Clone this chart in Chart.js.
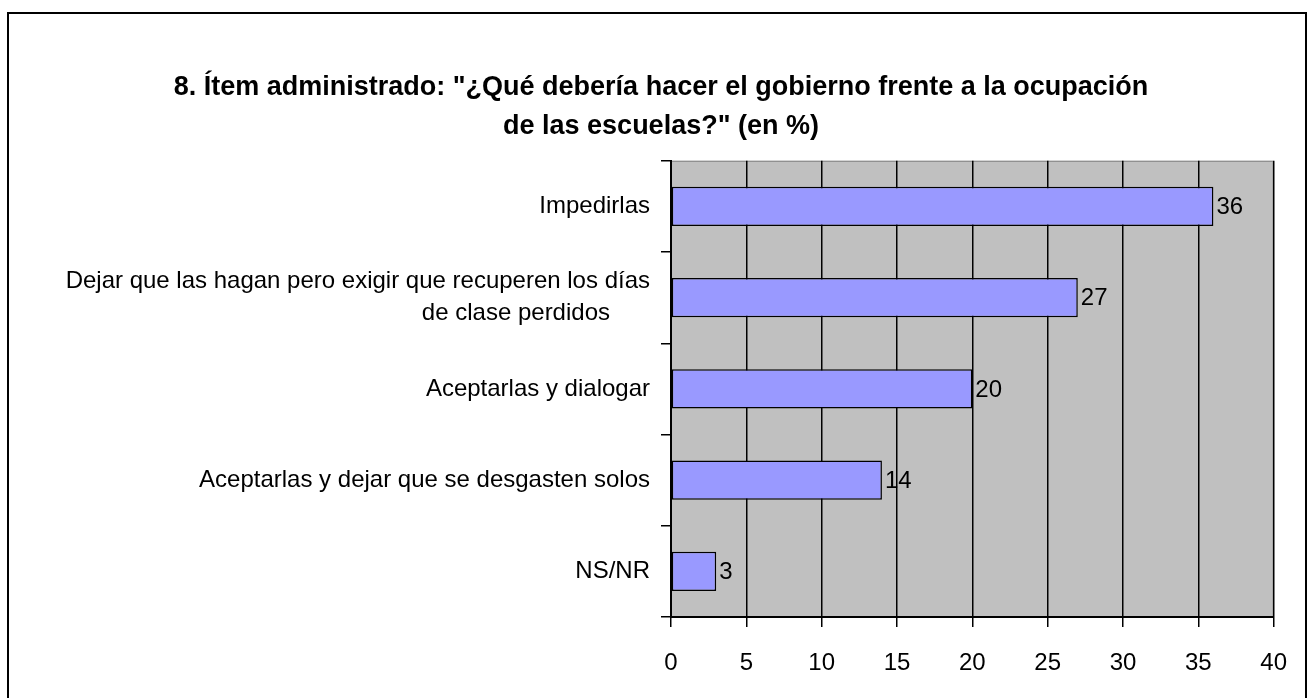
<!DOCTYPE html>
<html>
<head>
<meta charset="utf-8">
<script src="https://cdn.jsdelivr.net/npm/chart.js@4"></script>
<style>
  html, body { margin: 0; padding: 0; background: #fff; }
  #wrap { width: 1309px; height: 698px; }
</style>
</head>
<body>
<div id="wrap"><canvas id="chart" width="1309" height="698"></canvas></div>
<script>
// data
let categories = [
    "Impedirlas",
    ["Dejar que las hagan pero exigir que recuperen los días", "de clase perdidos      "],
    "Aceptarlas y dialogar",
    "Aceptarlas y dejar que se desgasten solos",
    "NS/NR"
];
let values = [36, 27, 20, 14, 3];
let titleLines = [
    "8. Ítem administrado: \"¿Qué debería hacer el gobierno frente a la ocupación",
    "de las escuelas?\" (en %)"
];

let fontFamily = "'Liberation Sans', Arial, sans-serif";

// outer frame + grey plot background
let framePlugin = {
    id: "frame",
    beforeDraw(chart) {
        let ctx = chart.ctx;
        let a = chart.chartArea;
        ctx.save();
        ctx.fillStyle = "#fff";
        ctx.fillRect(0, 0, chart.width, chart.height);
        ctx.fillStyle = "#C0C0C0";
        ctx.fillRect(a.left, a.top, a.right - a.left, a.bottom - a.top);
        ctx.strokeStyle = "#808080";
        ctx.lineWidth = 1;
        ctx.beginPath();
        ctx.moveTo(a.left, a.top + 0.5);
        ctx.lineTo(a.right - 0.5, a.top + 0.5);
        ctx.lineTo(a.right - 0.5, a.bottom);
        ctx.stroke();
        ctx.strokeStyle = "#000";
        ctx.lineWidth = 2;
        ctx.strokeRect(8, 13, 1298, 700);
        ctx.restore();
    }
};

// value labels at the end of each bar
let valueLabels = {
    id: "valueLabels",
    afterDatasetsDraw(chart) {
        let ctx = chart.ctx;
        let meta = chart.getDatasetMeta(0);
        ctx.save();
        ctx.font = "24px " + fontFamily;
        ctx.fillStyle = "#000";
        ctx.textAlign = "left";
        ctx.textBaseline = "middle";
        meta.data.forEach((bar, i) => {
            ctx.fillText(values[i], bar.x + 3, bar.y + 1);
        });
        ctx.restore();
    }
};

new Chart(document.getElementById("chart"), {
    type: "bar",
    data: {
        labels: categories,
        datasets: [{
            data: values,
            backgroundColor: "#9999FF",
            borderColor: "#000",
            borderWidth: 1.5,
            borderSkipped: false,
            categoryPercentage: 0.43,
            barPercentage: 1
        }]
    },
    options: {
        indexAxis: "y",
        responsive: false,
        animation: false,
        layout: { padding: { left: 40, right: 27, top: 0, bottom: 0 } },
        plugins: {
            legend: { display: false },
            tooltip: { enabled: false },
            title: {
                display: true,
                text: titleLines,
                color: "#000",
                font: { family: fontFamily, size: 27, weight: "bold", lineHeight: 1.44 },
                padding: { top: 68, bottom: 15 }
            }
        },
        scales: {
            x: {
                min: 0,
                max: 40,
                ticks: { stepSize: 5, color: "#000", padding: 22, font: { family: fontFamily, size: 24 } },
                grid: { color: "#000", lineWidth: 1.5, drawTicks: true, tickLength: 10, tickColor: "#000" },
                border: { color: "#000", width: 2 },
                afterFit(scale) { scale.height = 698 - 617; }
            },
            y: {
                ticks: { color: "#000", padding: 11, font: { family: fontFamily, size: 24, lineHeight: 1.35 } },
                grid: { offset: true, drawOnChartArea: false, tickLength: 10, tickColor: "#000", lineWidth: 1.5 },
                border: { color: "#000", width: 2 },
                afterFit(scale) { scale.width = 631; }
            }
        }
    },
    plugins: [framePlugin, valueLabels]
});
</script>
</body>
</html>
